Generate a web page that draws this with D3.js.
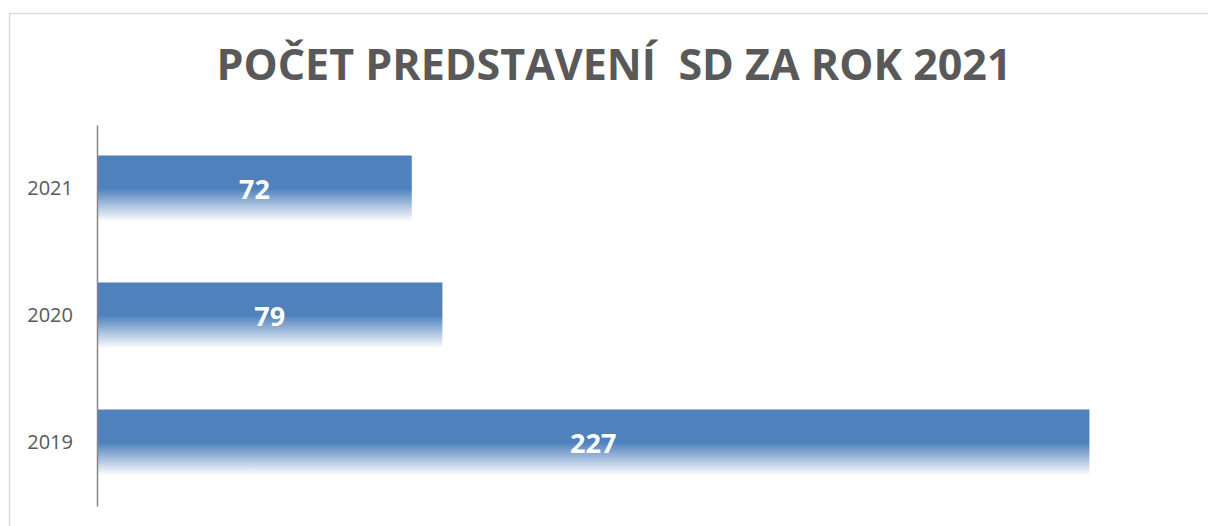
<!DOCTYPE html>
<html>
<head>
<meta charset="utf-8">
<script src="https://cdn.jsdelivr.net/npm/d3@7"></script>
<style>
  body { margin: 0; background: #fff; }
  svg { display: block; }
</style>
</head>
<body>
<svg id="chart" width="1208" height="526"></svg>
<script>
var years = ["2021", "2020", "2019"];
var counts = [72, 79, 227];
var title = "POČET PREDSTAVENÍ\u00a0 SD ZA ROK 2021";

var svg = d3.select("#chart");
var W = 1208, H = 526;
var margin = {top: 125, right: 18, bottom: 20, left: 97};

// chart area border
svg.append("rect")
    .attr("x", 9.5).attr("y", 13.5)
    .attr("width", W + 20).attr("height", H + 20)
    .attr("fill", "#fff")
    .attr("stroke", "#d9d9d9")
    .attr("stroke-width", 1.5);

var defs = svg.append("defs");
var grad = defs.append("linearGradient")
    .attr("id", "barGrad")
    .attr("x1", 0).attr("y1", 0).attr("x2", 0).attr("y2", 1);
grad.append("stop").attr("offset", "0%").attr("stop-color", "#4f81bd");
grad.append("stop").attr("offset", "50%").attr("stop-color", "#4f81bd");
grad.append("stop").attr("offset", "100%").attr("stop-color", "#ffffff");

svg.append("text")
    .attr("x", 614)
    .attr("y", 80)
    .attr("text-anchor", "middle")
    .attr("font-family", "'Open Sans', sans-serif")
    .attr("font-weight", "bold")
    .attr("font-size", 43)
    .attr("fill", "#595959")
    .attr("textLength", 795)
    .attr("lengthAdjust", "spacingAndGlyphs")
    .text(title);

var x = d3.scaleLinear()
    .domain([0, 250])
    .range([margin.left, margin.left + 1093]);

var y = d3.scaleBand()
    .domain(years)
    .range([margin.top, 506])
    .paddingInner(0.48)
    .paddingOuter(0.24);

svg.selectAll(".bar")
    .data(years)
    .enter()
    .append("rect")
    .attr("class", "bar")
    .attr("x", x(0))
    .attr("y", function(d) { return y(d); })
    .attr("width", function(d, i) { return x(counts[i]) - x(0); })
    .attr("height", y.bandwidth())
    .attr("fill", "url(#barGrad)");

svg.selectAll(".val")
    .data(years)
    .enter()
    .append("text")
    .attr("class", "val")
    .attr("x", function(d, i) { return (x(0) + x(counts[i])) / 2; })
    .attr("y", function(d) { return y(d) + y.bandwidth() / 2 + 10.5; })
    .attr("text-anchor", "middle")
    .attr("font-family", "'Open Sans', sans-serif")
    .attr("font-weight", "bold")
    .attr("font-size", 27)
    .attr("fill", "#ffffff")
    .text(function(d, i) { return counts[i]; });

var yAxis = svg.append("g")
    .attr("transform", "translate(" + margin.left + ",0)")
    .call(d3.axisLeft(y).tickSize(0).tickPadding(24));
yAxis.select(".domain")
    .attr("stroke", "#868686")
    .attr("stroke-width", 1.5);
yAxis.selectAll("text")
    .attr("font-family", "'Open Sans', sans-serif")
    .attr("font-size", 20)
    .attr("fill", "#595959");
</script>
</body>
</html>
